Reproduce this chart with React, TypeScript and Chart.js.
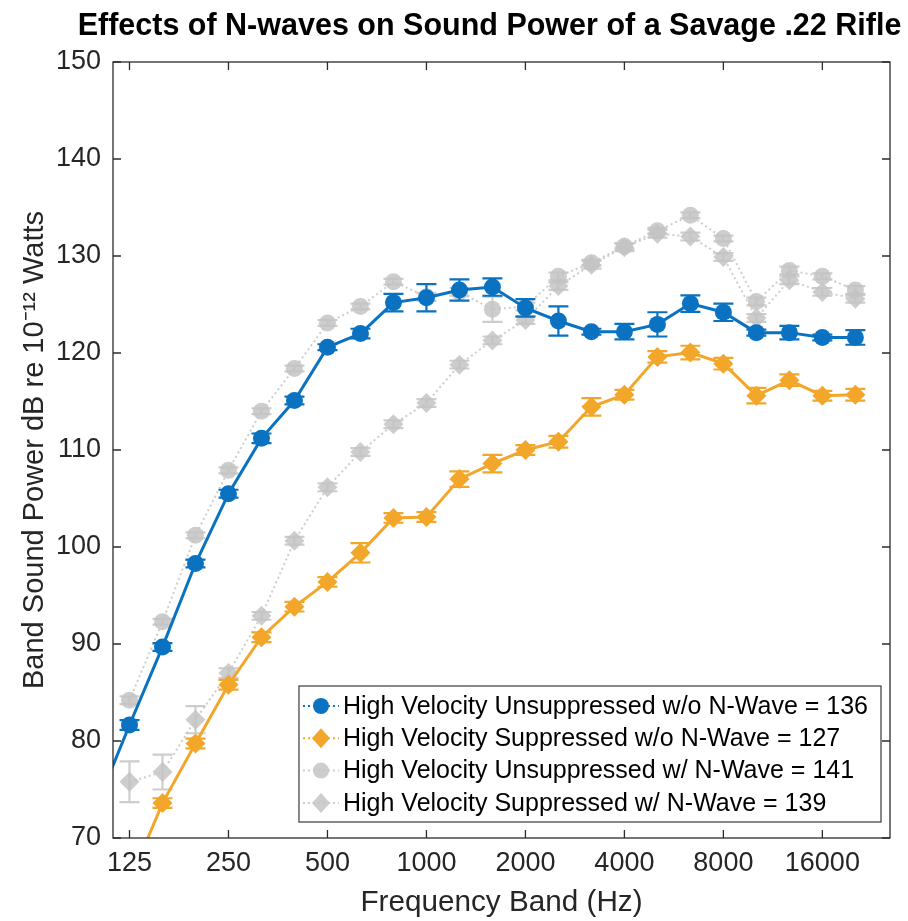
import React, { useEffect, useRef } from "react";
import { Chart, registerables } from "chart.js";

Chart.register(...registerables);

// One-third-octave band centre frequencies (Hz); plotted at equal spacing
const BAND_HZ = [100, 125, 160, 200, 250, 315, 400, 500, 630, 800, 1000, 1250, 1600, 2000, 2500, 3150, 4000, 5000, 6300, 8000, 10000, 12500, 16000, 20000];
const TICK_HZ = [125, 250, 500, 1000, 2000, 4000, 8000, 16000];
const Y_TICKS = [70, 80, 90, 100, 110, 120, 130, 140, 150];

const TITLE = "Effects of N-waves on Sound Power of a Savage .22 Rifle";
const X_TITLE = "Frequency Band (Hz)";
const Y_TITLE = "Band Sound Power dB re 10\u207B\u00B9\u00B2 Watts";

const LABEL_UNSUP_NO = "High Velocity Unsuppressed w/o N-Wave = 136";
const LABEL_SUP_NO = "High Velocity Suppressed w/o N-Wave = 127";
const LABEL_UNSUP_N = "High Velocity Unsuppressed w/ N-Wave = 141";
const LABEL_SUP_N = "High Velocity Suppressed w/ N-Wave = 139";

const unsupNoWave = [73.3, 81.65, 89.7, 98.3, 105.5, 111.2, 115.1, 120.6, 122.0, 125.2, 125.7, 126.5, 126.8, 124.65, 123.3, 122.2, 122.2, 122.95, 125.1, 124.2, 122.1, 122.1, 121.6, 121.6];
const unsupNoWaveErr = [0.5, 0.5, 0.4, 0.4, 0.4, 0.5, 0.4, 0.3, 0.5, 0.9, 1.4, 1.1, 0.9, 0.9, 1.5, 0.3, 0.8, 1.25, 0.85, 0.9, 0.3, 0.7, 0.3, 0.75];

const supNoWave = [null, 65.5, 73.6, 79.75, 85.8, 90.7, 93.85, 96.4, 99.4, 103.0, 103.1, 107.0, 108.6, 110.0, 110.85, 114.45, 115.7, 119.6, 120.05, 118.9, 115.6, 117.2, 115.6, 115.7];
const supNoWaveErr = [0, 0.5, 0.5, 0.5, 0.5, 0.5, 0.5, 0.5, 1.0, 0.5, 0.5, 0.8, 0.9, 0.5, 0.6, 0.9, 0.5, 0.6, 0.7, 0.6, 0.8, 0.6, 0.5, 0.6];

const unsupNWave = [null, 84.2, 92.3, 101.2, 107.9, 114.0, 118.4, 123.1, 124.8, 127.35, 125.8, 126.3, 124.5, 124.8, 127.9, 129.3, 131.0, 132.6, 134.2, 131.8, 125.3, 128.5, 127.9, 126.5];
const unsupNWaveErr = [0, 0.4, 0.3, 0.3, 0.3, 0.3, 0.3, 0.3, 0.3, 0.3, 0.4, 0.4, 1.3, 0.4, 0.4, 0.3, 0.3, 0.3, 0.3, 0.3, 0.4, 0.4, 0.3, 0.4];

const supNWave = [null, 75.8, 76.8, 82.2, 87.0, 92.9, 100.65, 106.15, 109.8, 112.65, 114.85, 118.8, 121.3, 123.4, 126.9, 129.1, 130.9, 132.3, 132.0, 129.9, 123.6, 127.5, 126.3, 125.6];
const supNWaveErr = [0, 2.1, 1.8, 1.4, 0.5, 0.4, 0.4, 0.4, 0.4, 0.4, 0.4, 0.4, 0.4, 0.4, 0.4, 0.4, 0.4, 0.4, 0.4, 0.4, 0.4, 0.4, 0.4, 0.4];

const BLUE = "#0a72c0";
const ORANGE = "#f2a62a";
const GREY = "rgba(196,196,196,0.85)";
const AXIS = "#2b2b2b";
const FONT = "'Liberation Sans', Arial, Helvetica, sans-serif";

const toPoints = (vals: (number | null)[]) => vals.map((v, i) => ({ x: i, y: v }));

const errorBarPlugin = {
  id: "errorBars",
  afterDatasetDraw(chart: any, args: any) {
    const ds: any = chart.data.datasets[args.index];
    if (!ds.errors) return;
    const { ctx, chartArea, scales } = chart;
    const xs = scales.x;
    const ys = scales.y;
    ctx.save();
    ctx.beginPath();
    ctx.rect(chartArea.left, chartArea.top, chartArea.right - chartArea.left, chartArea.bottom - chartArea.top);
    ctx.clip();
    ctx.strokeStyle = ds.errorColor;
    ctx.lineWidth = ds.errorWidth;
    ds.data.forEach((p: any, i: number) => {
      if (p.y == null) return;
      const e = ds.errors[i] || 0;
      const px = xs.getPixelForValue(p.x);
      const yt = ys.getPixelForValue(p.y + e);
      const yb = ys.getPixelForValue(p.y - e);
      const hw = 10;
      ctx.beginPath();
      ctx.moveTo(px, yt);
      ctx.lineTo(px, yb);
      ctx.moveTo(px - hw, yt);
      ctx.lineTo(px + hw, yt);
      ctx.moveTo(px - hw, yb);
      ctx.lineTo(px + hw, yb);
      ctx.stroke();
    });
    ctx.restore();
  },
};

const frameTitleLegendPlugin = {
  id: "frameTitleLegend",
  afterDraw(chart: any) {
    const { ctx, chartArea, scales } = chart;
    const { left, right, top, bottom } = chartArea;
    ctx.save();
    // axes box
    ctx.strokeStyle = AXIS;
    ctx.lineWidth = 1.3;
    ctx.strokeRect(left, top, right - left, bottom - top);
    // inward ticks
    const tl = 8;
    ctx.beginPath();
    TICK_HZ.forEach((hz) => {
      const px = scales.x.getPixelForValue(BAND_HZ.indexOf(hz));
      ctx.moveTo(px, bottom);
      ctx.lineTo(px, bottom - tl);
      ctx.moveTo(px, top);
      ctx.lineTo(px, top + tl);
    });
    Y_TICKS.forEach((v) => {
      const py = scales.y.getPixelForValue(v);
      ctx.moveTo(left, py);
      ctx.lineTo(left + tl, py);
      ctx.moveTo(right, py);
      ctx.lineTo(right - tl, py);
    });
    ctx.stroke();

    // title
    ctx.fillStyle = "#000";
    ctx.font = `bold 30.5px ${FONT}`;
    ctx.textAlign = "center";
    ctx.textBaseline = "alphabetic";
    ctx.fillText(TITLE, 489.5, 35);

    // legend
    const datasets = chart.data.datasets;
    ctx.font = `25px ${FONT}`;
    let maxW = 0;
    datasets.forEach((d: any) => {
      maxW = Math.max(maxW, ctx.measureText(d.label).width);
    });
    const boxW = 44 + maxW + 13;
    const boxH = 136;
    const bx = right - 9 - boxW;
    const by = bottom - 16 - boxH;
    ctx.fillStyle = "#fff";
    ctx.fillRect(bx, by, boxW, boxH);
    ctx.strokeStyle = "#3a3a3a";
    ctx.lineWidth = 1.2;
    ctx.strokeRect(bx, by, boxW, boxH);
    datasets.forEach((d: any, k: number) => {
      const cy = by + 20 + k * 32.3;
      const mx = bx + 22;
      ctx.strokeStyle = d.borderColor;
      ctx.lineWidth = 2;
      ctx.setLineDash([2, 3]);
      ctx.beginPath();
      ctx.moveTo(bx + 4, cy);
      ctx.lineTo(bx + 40, cy);
      ctx.stroke();
      ctx.setLineDash([]);
      ctx.fillStyle = d.pointBackgroundColor;
      ctx.beginPath();
      if (d.pointStyle === "circle") {
        ctx.arc(mx, cy, 8, 0, Math.PI * 2);
      } else {
        ctx.moveTo(mx, cy - 10);
        ctx.lineTo(mx + 9, cy);
        ctx.lineTo(mx, cy + 10);
        ctx.lineTo(mx - 9, cy);
        ctx.closePath();
      }
      ctx.fill();
      ctx.fillStyle = "#000";
      ctx.textAlign = "left";
      ctx.textBaseline = "middle";
      ctx.fillText(d.label, bx + 44, cy + 1);
    });
    ctx.restore();
  },
};

export default function App() {
  const canvasRef = useRef<HTMLCanvasElement | null>(null);

  useEffect(() => {
    const canvas = canvasRef.current;
    if (!canvas) return;
    const mk = (label: string, vals: (number | null)[], errs: number[], color: string, style: string, radius: number, width: number, dash: number[], order: number) => ({
      label,
      data: toPoints(vals),
      errors: errs,
      errorColor: color,
      errorWidth: 2.2,
      borderColor: color,
      backgroundColor: color,
      pointBackgroundColor: color,
      pointBorderColor: color,
      pointBorderWidth: 0,
      pointStyle: style,
      pointRadius: radius,
      borderWidth: width,
      borderDash: dash,
      showLine: true,
      spanGaps: false,
      order,
    });
    const chart = new Chart(canvas, {
      type: "scatter",
      data: {
        datasets: [
          mk(LABEL_UNSUP_NO, unsupNoWave, unsupNoWaveErr, BLUE, "circle", 8.5, 3, [], 1),
          mk(LABEL_SUP_NO, supNoWave, supNoWaveErr, ORANGE, "rectRot", 10, 3, [], 2),
          mk(LABEL_UNSUP_N, unsupNWave, unsupNWaveErr, GREY, "circle", 8.5, 2, [2, 3], 3),
          mk(LABEL_SUP_N, supNWave, supNWaveErr, GREY, "rectRot", 10, 2, [2, 3], 4),
        ] as any,
      },
      options: {
        animation: false,
        responsive: false,
        maintainAspectRatio: false,
        layout: { padding: { top: 62, right: 18, left: 0, bottom: 0 } },
        plugins: {
          legend: { display: false },
          tooltip: { enabled: false },
          title: { display: false },
        },
        scales: {
          x: {
            type: "linear",
            min: 0.5,
            max: 24.05,
            grid: { display: false },
            border: { display: false },
            afterBuildTicks: (scale: any) => {
              scale.ticks = TICK_HZ.map((hz) => ({ value: BAND_HZ.indexOf(hz) }));
            },
            afterFit: (scale: any) => {
              scale.height = 83;
            },
            ticks: {
              autoSkip: false,
              maxRotation: 0,
              padding: 1,
              color: "#262626",
              font: { family: FONT, size: 27 },
              callback: (v: any) => String(BAND_HZ[Math.round(Number(v))]),
            },
            title: {
              display: true,
              text: X_TITLE,
              color: "#262626",
              font: { family: FONT, size: 29.7 },
              padding: { top: 0, bottom: 0 },
            },
          },
          y: {
            type: "linear",
            min: 70,
            max: 150,
            grid: { display: false },
            border: { display: false },
            afterFit: (scale: any) => {
              scale.width = 113;
            },
            ticks: {
              stepSize: 10,
              padding: 4,
              color: "#262626",
              font: { family: FONT, size: 27 },
            },
            title: {
              display: true,
              text: Y_TITLE,
              color: "#262626",
              font: { family: FONT, size: 29 },
              padding: { top: 18, bottom: 0 },
            },
          },
        },
      },
      plugins: [errorBarPlugin, frameTitleLegendPlugin],
    } as any);
    return () => chart.destroy();
  }, []);

  return (
    <div style={{ position: "absolute", left: 0, top: 0, width: 908, height: 921, background: "#fff" }}>
      <canvas ref={canvasRef} width={908} height={921} style={{ display: "block", width: 908, height: 921 }} />
    </div>
  );
}
